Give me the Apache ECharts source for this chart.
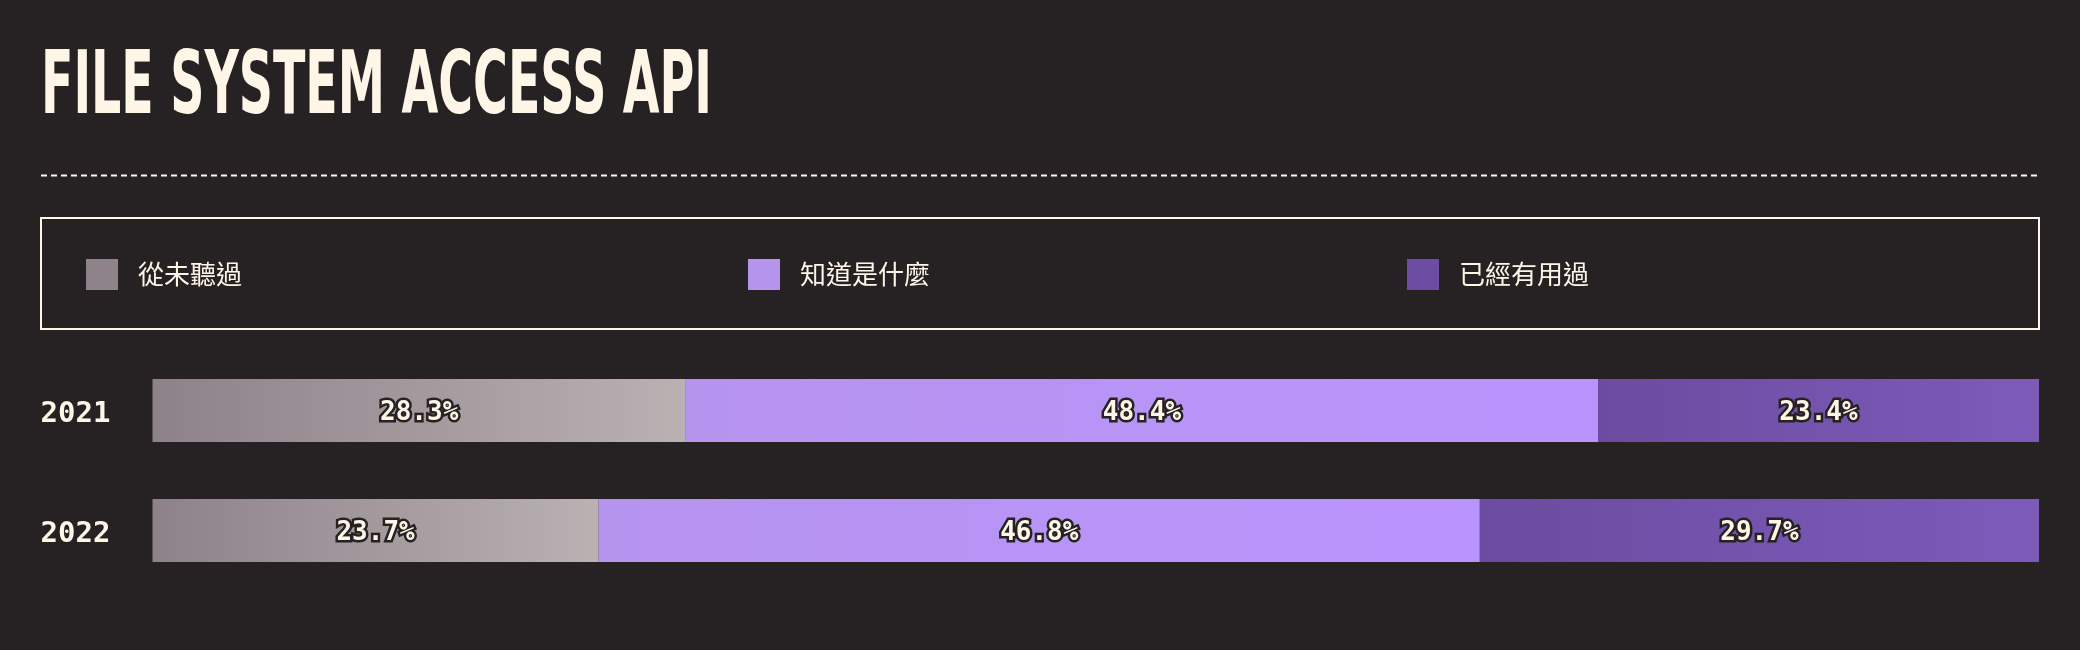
<!DOCTYPE html>
<html>
<head>
<meta charset="utf-8">
<script src="https://cdn.jsdelivr.net/npm/echarts@6/dist/echarts.min.js"></script>
<style>
html,body{margin:0;padding:0;background:#262223;}
#chart{width:2080px;height:650px;}
</style>
</head>
<body>
<div id="chart"></div>
<script>
const title = 'FILE SYSTEM ACCESS API';
const years = ['2021', '2022'];
const seriesNames = ['從未聽過', '知道是什麼', '已經有用過'];
const neverHeard = [28.3, 23.7];
const knowWhat = [48.4, 46.8];
const haveUsed = [23.4, 29.7];

const BG = '#262223';
const CREAM = '#FFF6E8';
const rawSeries = [neverHeard, knowWhat, haveUsed];
const totals = years.map((_, i) => rawSeries.reduce((s, arr) => s + arr[i], 0));

const gradients = [
  ['#8C8288', '#BAB1B3'],
  ['#B594EE', '#BA94FD'],
  ['#6C4CA0', '#7C5BBA']
];
const swatch = ['#8E8389', '#B594EE', '#6D4CA3'];

const cv = document.createElement('canvas').getContext('2d');
const titleFont = 'bold 88px "DejaVu Sans Condensed"';
cv.font = titleFont;
const tw = cv.measureText(title).width;
const titleScale = 671 / tw;

const chart = echarts.init(document.getElementById('chart'), null, {renderer: 'canvas'});

const legendLefts = [81, 743, 1402];
const legends = seriesNames.map((n, k) => ({
  data: [{name: n, itemStyle: {color: swatch[k]}}],
  left: legendLefts[k],
  top: 254,
  orient: 'horizontal',
  icon: 'rect',
  itemWidth: 32,
  itemHeight: 31,
  selectedMode: false,
  textStyle: {color: CREAM, fontSize: 26, fontFamily: '"Noto Sans CJK TC"', padding: [0, 0, 0, 15]}
}));

const series = seriesNames.map((n, k) => ({
  name: n,
  type: 'bar',
  stack: 'total',
  barWidth: 63,
  itemStyle: {
    color: new echarts.graphic.LinearGradient(0, 0, 1, 0, [
      {offset: 0, color: gradients[k][0]},
      {offset: 1, color: gradients[k][1]}
    ])
  },
  label: {
    show: true,
    position: 'inside',
    offset: [0, 3],
    formatter: p => rawSeries[k][p.dataIndex].toFixed(1) + '%',
    color: CREAM,
    fontFamily: '"DejaVu Sans Mono"',
    fontWeight: 'bold',
    fontSize: 26,
    textBorderColor: BG,
    textBorderWidth: 5
  },
  data: rawSeries[k].map((v, i) => v / totals[i] * 100)
}));

chart.setOption({
  backgroundColor: BG,
  animation: false,
  color: swatch,
  legend: legends,
  grid: {left: 152.5, right: 41, top: 350.5, bottom: 59.5, containLabel: false},
  xAxis: {type: 'value', min: 0, max: 100, show: false},
  yAxis: {
    type: 'category',
    data: years,
    inverse: true,
    axisLine: {show: false},
    axisTick: {show: false},
    splitLine: {show: false},
    axisLabel: {
      align: 'left',
      margin: 112,
      formatter: '{y|{value}}',
      rich: {
        y: {
          padding: [7, 0, 0, 0],
          color: CREAM,
          fontFamily: '"DejaVu Sans Mono"',
          fontWeight: 'bold',
          fontSize: 29
        }
      },
      color: CREAM,
      fontFamily: '"DejaVu Sans Mono"',
      fontWeight: 'bold',
      fontSize: 29
    }
  },
  series: series,
  graphic: [
    {
      type: 'text',
      left: 41,
      top: 46,
      scaleX: titleScale,
      originX: 0,
      style: {
        text: title,
        font: titleFont,
        fill: CREAM,
        shadowColor: 'rgba(0,0,0,0.6)',
        shadowOffsetX: 1,
        shadowOffsetY: 1
      }
    },
    {
      type: 'line',
      shape: {x1: 41, y1: 175.5, x2: 2039, y2: 175.5},
      style: {stroke: CREAM, lineWidth: 2, lineDash: [6, 4]}
    },
    {
      type: 'rect',
      shape: {x: 41, y: 218, width: 1998, height: 111},
      style: {fill: 'none', stroke: CREAM, lineWidth: 2}
    }
  ]
});
</script>
</body>
</html>
